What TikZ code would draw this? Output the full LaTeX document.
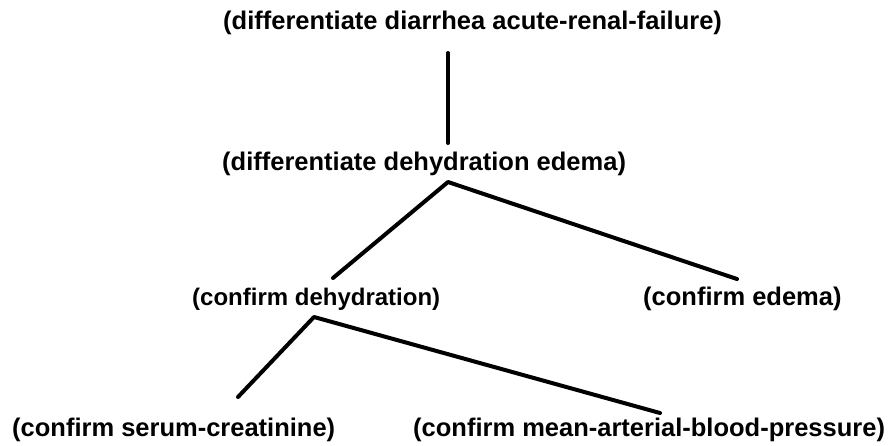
\documentclass[tikz,border=0pt]{standalone}
\usepackage{fontspec}
\setmainfont{Liberation Sans}
\begin{document}
\begin{tikzpicture}[x=1pt,y=-1pt,
  lbl/.style={inner sep=0pt, anchor=base west, font=\bfseries\fontsize{25.5}{30}\selectfont},
  edge/.style={line width=4pt, line cap=round, line join=round}]
\useasboundingbox (0,0) rectangle (890,445);
\fill[white] (0,0) rectangle (890,445);
% nodes
\node[lbl] (t1) at (223,29) {(differentiate diarrhea acute-renal-failure)};
\node[lbl] (t2) at (222,170) {(differentiate dehydration edema)};
\node[lbl, font=\bfseries\fontsize{24}{28}\selectfont] (t3) at (192,305) {(confirm dehydration)};
\node[lbl] (t4) at (643,305) {(confirm edema)};
\node[lbl] (t5) at (12,436) {(confirm serum-creatinine)};
\node[lbl] (t6) at (413,436) {(confirm mean-arterial-blood-pressure)};
% connector end points
\coordinate (t1b) at (448,53);
\coordinate (t2t) at (448,143);
\coordinate (t2b) at (448,182);
\coordinate (t3t) at (333,278);
\coordinate (t4t) at (737,279);
\coordinate (t3b) at (314,317);
\coordinate (t5t) at (238,397);
\coordinate (t6t) at (660,413);
% connectors
\draw[edge] (t1b) -- (t2t);
\draw[edge] (t3t) -- (t2b) -- (t4t);
\draw[edge] (t5t) -- (t3b) -- (t6t);
\end{tikzpicture}
\end{document}
